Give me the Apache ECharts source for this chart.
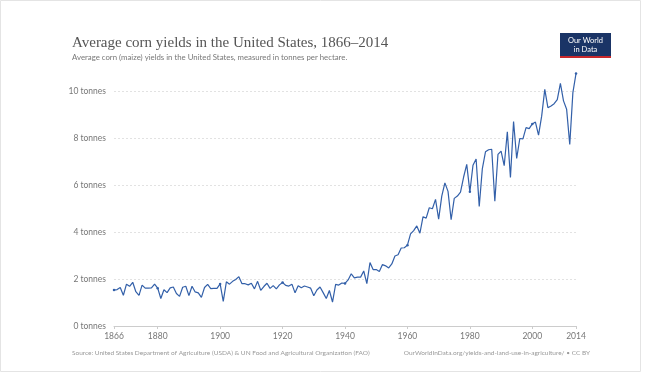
<!DOCTYPE html>
<html>
<head>
<meta charset="utf-8">
<script src="https://cdn.jsdelivr.net/npm/echarts@6/dist/echarts.min.js"></script>
<style>
  html, body { margin: 0; padding: 0; background: #fff; }
  #chart { width: 652px; height: 381px; }
</style>
</head>
<body>
<div id="chart"></div>
<script>
// Corn yield, tonnes per hectare, one value per year 1866–2014
const years = [];
for (let y = 1866; y <= 2014; y++) years.push(String(y));

const cornYield = [
  1.53, 1.55, 1.64, 1.31, 1.78, 1.69, 1.86, 1.46, 1.30, 1.74, // 1866-1875
  1.61, 1.61, 1.62, 1.78, 1.61, 1.17, 1.54, 1.42, 1.62, 1.66, // 1876-1885
  1.38, 1.26, 1.65, 1.69, 1.29, 1.69, 1.45, 1.41, 1.22, 1.64, // 1886-1895
  1.77, 1.59, 1.60, 1.60, 1.79, 1.05, 1.88, 1.78, 1.90, 1.98, // 1896-1905
  2.10, 1.80, 1.80, 1.75, 1.82, 1.58, 1.90, 1.52, 1.68, 1.82, // 1906-1915
  1.60, 1.72, 1.58, 1.75, 1.85, 1.73, 1.70, 1.78, 1.41, 1.71, // 1916-1925
  1.63, 1.70, 1.66, 1.61, 1.29, 1.53, 1.66, 1.42, 1.17, 1.51, // 1926-1935
  1.02, 1.77, 1.74, 1.83, 1.81, 1.96, 2.22, 2.05, 2.08, 2.08, // 1936-1945
  2.34, 1.80, 2.70, 2.40, 2.40, 2.32, 2.62, 2.56, 2.47, 2.64, // 1946-1955
  2.98, 3.03, 3.32, 3.33, 3.44, 3.92, 4.06, 4.26, 3.95, 4.65, // 1956-1965
  4.59, 5.03, 4.99, 5.39, 4.55, 5.53, 6.09, 5.73, 4.52, 5.43, // 1966-1975
  5.53, 5.70, 6.34, 6.88, 5.71, 6.84, 7.11, 5.09, 6.70, 7.41, // 1976-1985
  7.50, 7.52, 5.31, 7.30, 7.44, 6.82, 8.26, 6.32, 8.70, 7.13, // 1986-1995
  7.98, 7.96, 8.44, 8.40, 8.60, 8.68, 8.12, 8.93, 10.07, 9.29, // 1996-2005
  9.36, 9.46, 9.63, 10.32, 9.58, 9.22, 7.73, 9.93, 10.74       // 2006-2014
];

// Years that carry a label on the horizontal axis
const xTickYears = [1866, 1880, 1900, 1920, 1940, 1960, 1980, 2000, 2014];
// Gridline values on the vertical axis
const yTicks = [0, 2, 4, 6, 8, 10];

const chart = echarts.init(document.getElementById('chart'), null, { renderer: 'canvas' });

const showYear = (idx) => xTickYears.indexOf(1866 + idx) !== -1;

chart.setOption({
  animation: false,
  backgroundColor: '#ffffff',
  textStyle: { fontFamily: 'Lato, "Noto Sans", sans-serif' },
  title: [
    {
      text: 'Average corn yields in the United States, 1866–2014',
      left: 72, top: 36, padding: 0,
      textStyle: { fontFamily: '"Liberation Serif", "DejaVu Serif", serif', fontSize: 15, fontWeight: 'normal', color: '#555555' }
    },
    {
      text: 'Average corn (maize) yields in the United States, measured in tonnes per hectare.',
      left: 72, top: 53, padding: 0,
      textStyle: { fontFamily: 'Lato, sans-serif', fontSize: 7.8, fontWeight: 'normal', color: '#777777' }
    },
    {
      text: 'Source: United States Department of Agriculture (USDA) & UN Food and Agricultural Organization (FAO)',
      left: 72, top: 349, padding: 0,
      textStyle: { fontFamily: 'Lato, sans-serif', fontSize: 6.5, fontWeight: 'normal', color: '#999999' }
    },
    {
      text: 'OurWorldInData.org/yields-and-land-use-in-agriculture/ • CC BY',
      right: 62, top: 349, padding: 0,
      textStyle: { fontFamily: 'Lato, sans-serif', fontSize: 6.5, fontWeight: 'normal', color: '#999999' }
    }
  ],
  graphic: [
    { type: 'rect', shape: { x: 0.5, y: 0.5, width: 640, height: 371 }, style: { fill: 'none', stroke: '#e4e4e4', lineWidth: 1 }, silent: true },
    { type: 'rect', shape: { x: 560, y: 33, width: 51, height: 25 }, style: { fill: '#1a3466' } },
    { type: 'rect', shape: { x: 560, y: 56, width: 51, height: 2 }, style: { fill: '#c8282b' } },
    { type: 'text', x: 585.5, y: 36, style: { text: 'Our World\nin Data', fill: '#ffffff', font: '7.5px Lato, sans-serif', align: 'center', lineHeight: 9 } }
  ],
  grid: { left: 114, right: 76, top: 91, bottom: 55, containLabel: false },
  xAxis: {
    type: 'category',
    data: years,
    boundaryGap: false,
    axisLine: { show: true, lineStyle: { color: '#cccccc', width: 1 } },
    axisTick: { show: true, alignWithLabel: true, interval: (i) => showYear(i), length: 3, lineStyle: { color: '#cccccc' } },
    axisLabel: { interval: (i) => showYear(i), color: '#777777', fontSize: 8.5, margin: 6 },
    splitLine: { show: false }
  },
  yAxis: {
    type: 'value',
    min: 0, max: 10, interval: 2,
    axisLine: { show: false },
    axisTick: { show: false },
    axisLabel: { formatter: (v) => yTicks.indexOf(v) !== -1 ? v + ' tonnes' : '', color: '#777777', fontSize: 8.5, margin: 8 },
    splitLine: { show: true, lineStyle: { color: '#e2e2e2', type: [2, 2], width: 1 } }
  },
  series: [{
    type: 'line',
    data: cornYield,
    clip: false,
    symbol: 'circle',
    symbolSize: 2.5,
    showSymbol: true,
    itemStyle: { color: '#3360a9' },
    lineStyle: { color: '#3360a9', width: 1.2 }
  }]
});
</script>
</body>
</html>
